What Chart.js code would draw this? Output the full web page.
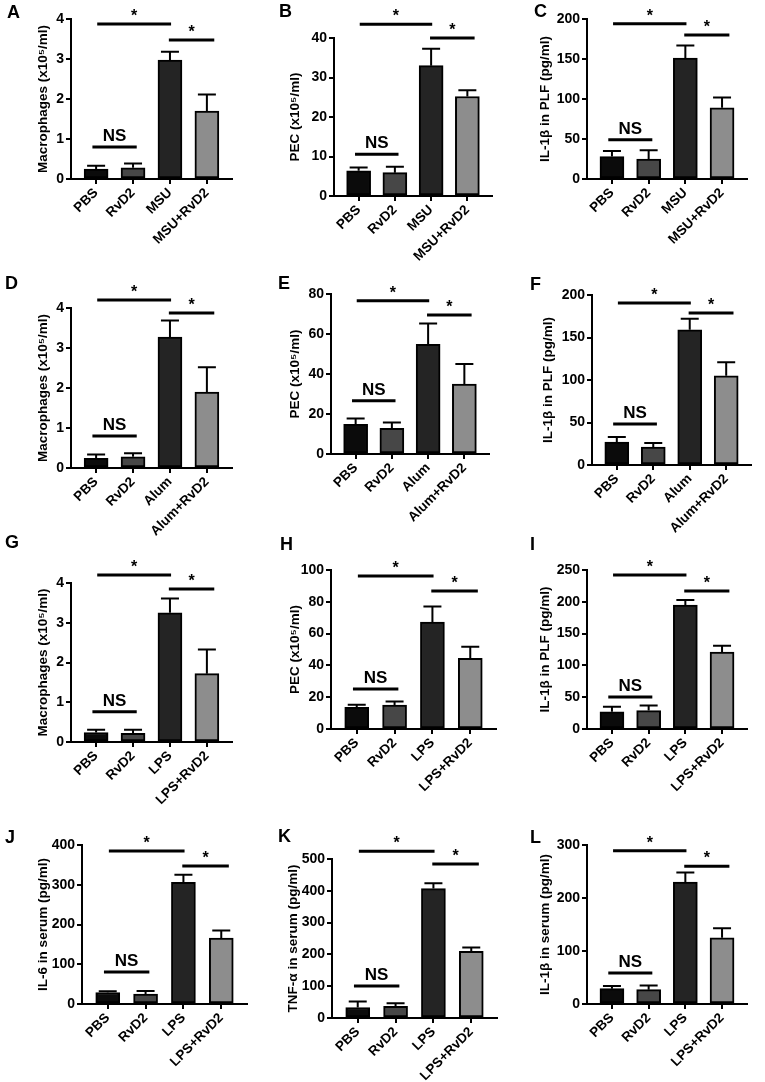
<!DOCTYPE html>
<html>
<head>
<meta charset="utf-8">
<script src="https://cdn.jsdelivr.net/npm/chart.js@4.4.1/dist/chart.umd.min.js"></script>
<style>
  body { margin: 0; background: #fff; }
  #fig { position: relative; width: 765px; height: 1082px; background: #fff; }
  #fig canvas { position: absolute; }
  .letter { position: absolute; font: bold 18px "Liberation Sans", Arial, sans-serif; line-height: 18px; color: #000; }
</style>
</head>
<body>
<div id="fig"></div>
<script>
// group names on the x axis
const groupsMSU = ['PBS', 'RvD2', 'MSU', 'MSU+RvD2'];
const groupsAlum = ['PBS', 'RvD2', 'Alum', 'Alum+RvD2'];
const groupsLPS = ['PBS', 'RvD2', 'LPS', 'LPS+RvD2'];

const panelLetters = ['A', 'B', 'C', 'D', 'E', 'F', 'G', 'H', 'I', 'J', 'K', 'L'];
const yTitles = [
  'Macrophages (x10⁵/ml)', 'PEC (x10⁵/ml)', 'IL-1β in PLF (pg/ml)',
  'Macrophages (x10⁵/ml)', 'PEC (x10⁵/ml)', 'IL-1β in PLF (pg/ml)',
  'Macrophages (x10⁵/ml)', 'PEC (x10⁵/ml)', 'IL-1β in PLF (pg/ml)',
  'IL-6 in serum (pg/ml)', 'TNF-α in serum (pg/ml)', 'IL-1β in serum (pg/ml)'
];
const yMax = [4, 40, 200, 4, 80, 200, 4, 100, 250, 400, 500, 300];
const yStep = [1, 10, 50, 1, 20, 50, 1, 20, 50, 100, 100, 100];

// bar heights (mean)
const meanA = [0.25, 0.28, 2.97, 1.70];
const meanB = [6.4, 5.9, 33.0, 25.2];
const meanC = [28, 25, 151, 89];
const meanD = [0.24, 0.28, 3.27, 1.90];
const meanE = [14.8, 12.8, 54.8, 35.0];
const meanF = [27, 21, 159, 105];
const meanG = [0.24, 0.22, 3.25, 1.72];
const meanH = [13.7, 15.0, 67.2, 44.5];
const meanI = [27, 29, 195, 121];
const meanJ = [29, 25, 306, 166];
const meanK = [33, 37, 407, 210];
const meanL = [29, 27, 230, 125];

// error bars (upper SEM)
const semA = [0.08, 0.11, 0.21, 0.41];
const semB = [0.8, 1.5, 4.3, 1.6];
const semC = [7, 11, 16, 13];
const semD = [0.10, 0.09, 0.42, 0.62];
const semE = [3.0, 2.9, 10.4, 10.0];
const semF = [6, 5, 13, 16];
const semG = [0.07, 0.09, 0.36, 0.61];
const semH = [1.5, 2.3, 9.8, 7.3];
const semI = [8, 8, 8, 10];
const semJ = [3, 8, 19, 19];
const semK = [19, 9, 17, 12];
const semL = [5, 8, 18, 18];

// heights of the significance bars in data units: [PBS vs treatment, treatment vs +RvD2, NS]
const sigA = [3.875, 3.475, 0.8];
const sigB = [43.5, 40.0, 10.6];
const sigC = [194, 180, 49];
const sigD = [4.2, 3.875, 0.8];
const sigE = [76.6, 69.5, 26.6];
const sigF = [190.6, 178.8, 48.2];
const sigG = [4.2, 3.85, 0.76];
const sigH = [96.2, 86.8, 25.2];
const sigI = [242, 217, 50.3];
const sigJ = [385, 347, 80.5];
const sigK = [524, 484, 101];
const sigL = [289, 260, 58.5];

const groups = [groupsMSU, groupsMSU, groupsMSU, groupsAlum, groupsAlum, groupsAlum,
                groupsLPS, groupsLPS, groupsLPS, groupsLPS, groupsLPS, groupsLPS];
const means = [meanA, meanB, meanC, meanD, meanE, meanF, meanG, meanH, meanI, meanJ, meanK, meanL];
const sems = [semA, semB, semC, semD, semE, semF, semG, semH, semI, semJ, semK, semL];
const sigs = [sigA, sigB, sigC, sigD, sigE, sigF, sigG, sigH, sigI, sigJ, sigK, sigL];

// panel placement on the page
const colX = [0, 255, 510];
const rowY = [0, 270, 540, 820];
const rowH = [270, 270, 280, 262];
const frames = [
  { axisX: 71, topY: 19, baseY: 179, endX: 232, titleX: 43 },
  { axisX: 334, topY: 38, baseY: 196, endX: 492, titleX: 295 },
  { axisX: 587, topY: 19, baseY: 179, endX: 747, titleX: 545 },
  { axisX: 71, topY: 308, baseY: 468, endX: 232, titleX: 43 },
  { axisX: 331, topY: 294, baseY: 454, endX: 489, titleX: 295 },
  { axisX: 592, topY: 295, baseY: 465, endX: 751, titleX: 548 },
  { axisX: 71, topY: 583, baseY: 742, endX: 232, titleX: 43 },
  { axisX: 331, topY: 570, baseY: 729, endX: 496, titleX: 295 },
  { axisX: 587, topY: 570, baseY: 729, endX: 747, titleX: 545 },
  { axisX: 82, topY: 845, baseY: 1004, endX: 247, titleX: 43 },
  { axisX: 332, topY: 859, baseY: 1018, endX: 497, titleX: 293 },
  { axisX: 587, topY: 845, baseY: 1004, endX: 747, titleX: 545 }
];
const letterPos = [
  [7, 18], [279, 17], [534, 17], [5, 289], [278, 289], [530, 290],
  [5, 548], [280, 550], [530, 550], [5, 843], [278, 842], [530, 843]
];

const barColors = ['#0b0b0b', '#474747', '#242424', '#8d8d8d'];

Chart.defaults.font.family = '"Liberation Sans", Arial, sans-serif';
Chart.defaults.font.size = 13;
Chart.defaults.font.weight = 'bold';
Chart.defaults.color = '#000';

// upper error bars with a cap
const errorBars = {
  id: 'errorBars',
  afterDatasetsDraw(chart, args, opts) {
    const ctx = chart.ctx;
    const yScale = chart.scales.y;
    const meta = chart.getDatasetMeta(0);
    const data = chart.data.datasets[0].data;
    ctx.save();
    ctx.strokeStyle = '#000';
    ctx.lineWidth = 2;
    meta.data.forEach((bar, i) => {
      const top = yScale.getPixelForValue(data[i].y + opts.sem[i]);
      ctx.beginPath();
      ctx.moveTo(bar.x, bar.y);
      ctx.lineTo(bar.x, top);
      ctx.moveTo(bar.x - 9, top);
      ctx.lineTo(bar.x + 9, top);
      ctx.stroke();
    });
    ctx.restore();
  }
};

// significance bars with * / NS
const sigBars = {
  id: 'sigBars',
  afterDraw(chart, args, opts) {
    const ctx = chart.ctx;
    const xs = chart.scales.x, ys = chart.scales.y;
    const spans = [[0.03, 2.03, '*'], [1.97, 3.2, '*'], [-0.1, 1.1, 'NS']];
    ctx.save();
    ctx.strokeStyle = '#000';
    ctx.fillStyle = '#000';
    ctx.lineWidth = 3;
    ctx.textAlign = 'center';
    ctx.textBaseline = 'alphabetic';
    spans.forEach((s, k) => {
      const x1 = xs.getPixelForValue(s[0]);
      const x2 = xs.getPixelForValue(s[1]);
      const y = ys.getPixelForValue(opts.levels[k]);
      ctx.beginPath();
      ctx.moveTo(x1, y);
      ctx.lineTo(x2, y);
      ctx.stroke();
      if (s[2] === 'NS') {
        ctx.font = 'bold 17px "Liberation Sans", Arial, sans-serif';
        ctx.fillText('NS', (x1 + x2) / 2, y - 6);
      } else {
        ctx.font = 'bold 16px "Liberation Sans", Arial, sans-serif';
        ctx.fillText('*', (x1 + x2) / 2, y - 3);
      }
    });
    ctx.restore();
  }
};

const fig = document.getElementById('fig');

panelLetters.forEach((letter, p) => {
  const col = p % 3, row = Math.floor(p / 3);
  const x0 = colX[col], y0 = rowY[row], w = 255, h = rowH[row];
  const f = frames[p];

  const canvas = document.createElement('canvas');
  canvas.width = w;
  canvas.height = h;
  canvas.style.left = x0 + 'px';
  canvas.style.top = y0 + 'px';
  fig.appendChild(canvas);

  const lab = document.createElement('div');
  lab.className = 'letter';
  lab.textContent = letter;
  lab.style.left = letterPos[p][0] + 'px';
  lab.style.top = (letterPos[p][1] - 15) + 'px';
  fig.appendChild(lab);

  const names = groups[p];
  new Chart(canvas, {
    type: 'bar',
    data: {
      datasets: [{
        data: means[p].map((v, i) => ({ x: i, y: v })),
        backgroundColor: barColors,
        borderColor: '#000',
        borderWidth: 2,
        borderSkipped: false,
        barThickness: 24
      }]
    },
    options: {
      responsive: false,
      devicePixelRatio: 1,
      animation: false,
      events: [],
      layout: { padding: { left: 0, top: f.topY - y0, right: x0 + w - f.endX, bottom: 0 } },
      plugins: {
        legend: { display: false },
        tooltip: { enabled: false },
        errorBars: { sem: sems[p] },
        sigBars: { levels: sigs[p] }
      },
      scales: {
        x: {
          type: 'linear',
          offset: false,
          min: -0.68,
          max: 3.68,
          afterBuildTicks: s => { s.ticks = [0, 1, 2, 3].map(v => ({ value: v })); },
          afterFit: s => { s.height = y0 + h - f.baseY; },
          ticks: {
            callback: v => names[v],
            autoSkip: false,
            minRotation: 45,
            maxRotation: 45,
            padding: 1,
            font: { size: 13.5, weight: 'bold' }
          },
          grid: { offset: false, drawOnChartArea: false, drawTicks: true, tickLength: 5, color: '#000', lineWidth: 2 },
          border: { display: true, color: '#000', width: 2 }
        },
        y: {
          min: 0,
          max: yMax[p],
          afterFit: s => { s.width = f.axisX - x0; },
          ticks: { stepSize: yStep[p], padding: 2, font: { size: 14, weight: 'bold' } },
          grid: { drawOnChartArea: false, drawTicks: true, tickLength: 5, color: '#000', lineWidth: 2 },
          border: { display: true, color: '#000', width: 2 },
          title: {
            display: true,
            text: yTitles[p],
            font: { size: 13.5, weight: 'bold' },
            padding: { top: f.titleX - x0 - 8.1, bottom: 0 }
          }
        }
      }
    },
    plugins: [errorBars, sigBars]
  });
});
</script>
</body>
</html>
